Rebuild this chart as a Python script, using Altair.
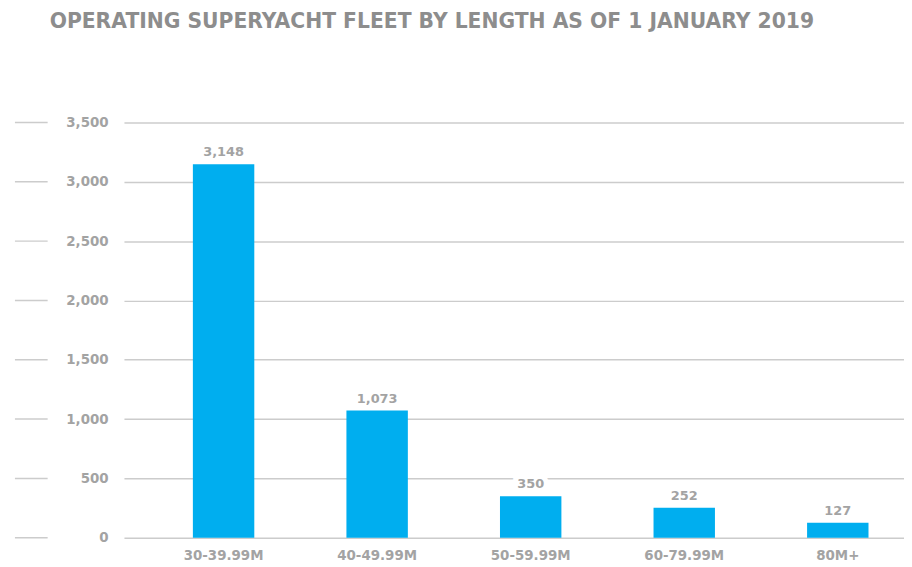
import altair as alt
import pandas as pd

categories = ["30-39.99M", "40-49.99M", "50-59.99M", "60-79.99M", "80M+"]
counts = [3148, 1073, 350, 252, 127]
y_ticks = [0, 500, 1000, 1500, 2000, 2500, 3000, 3500]

df = pd.DataFrame({"cat": categories, "n": counts})
tick_df = pd.DataFrame({"v": y_ticks})

FONT = "DejaVu Sans"
GREY = "#a3a3a3"
BAR = "#00AEEF"

x_enc = alt.X(
    "cat:N",
    sort=categories,
    scale=alt.Scale(paddingInner=0.6, paddingOuter=0.34, align=0.66),
    axis=alt.Axis(
        title=None, labelAngle=0, ticks=False, domain=False,
        labelFont=FONT, labelFontSize=13.5, labelFontWeight="bold",
        labelColor=GREY, labelPadding=11,
    ),
)
y_scale = alt.Scale(domain=[0, 3500], nice=False)
y_enc = alt.Y(
    "n:Q",
    scale=y_scale,
    axis=alt.Axis(
        title=None, values=y_ticks, format=",.0f", ticks=False, domain=False,
        grid=True, gridColor="#cccccc", gridWidth=1.5,
        labelFont=FONT, labelFontSize=13.5, labelFontWeight="bold",
        labelColor=GREY, labelPadding=16,
    ),
)

base = alt.Chart(df)
bars = base.mark_bar(color=BAR).encode(x=x_enc, y=y_enc)
halo = base.mark_text(
    dy=-12, font=FONT, fontSize=13, fontWeight="bold",
    stroke="white", strokeWidth=10, color="white",
).encode(x=alt.X("cat:N", sort=categories), y=alt.Y("n:Q"), text=alt.Text("n:Q", format=",.0f"))
labels = base.mark_text(
    dy=-12, font=FONT, fontSize=13, fontWeight="bold", color=GREY,
).encode(x=alt.X("cat:N", sort=categories), y=alt.Y("n:Q"), text=alt.Text("n:Q", format=",.0f"))

short_lines = alt.Chart(tick_df).mark_rule(color="#cccccc", strokeWidth=1.5).encode(
    x=alt.value(-110), x2=alt.value(-77), y=alt.Y("v:Q", scale=y_scale)
)

chart = alt.layer(short_lines, bars, halo, labels).properties(
    width=787,
    height=419,
    padding={"left": 117, "top": 113, "right": 0, "bottom": 27},
    autosize=alt.AutoSizeParams(type="none"),
    title=alt.TitleParams(
        "OPERATING SUPERYACHT FLEET BY LENGTH AS OF 1 JANUARY 2019",
        anchor="start", frame="group", dx=-75, offset=84,
        font=FONT, fontSize=20.5, fontWeight="bold", color="#8d8d8d",
    ),
).configure_view(stroke=None)

chart.save("out.html", embed_options={"renderer": "svg", "actions": False})
